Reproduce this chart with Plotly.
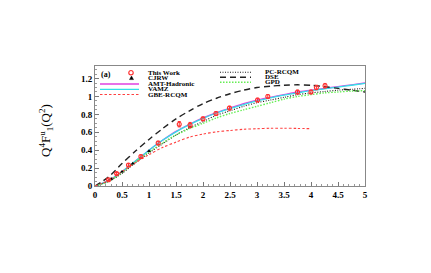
import plotly.graph_objects as go

# ---------------- data ----------------
q2_grid = [0, 0.25, 0.5, 0.75, 1, 1.25, 1.5, 1.75, 2, 2.25, 2.5, 2.75, 3,
           3.25, 3.5, 3.75, 4, 4.25, 4.5, 4.75, 5]
amt_hadronic = [0, 0.06, 0.16, 0.28, 0.40, 0.51, 0.61, 0.69, 0.76, 0.82, 0.87,
                0.92, 0.96, 0.99, 1.02, 1.05, 1.07, 1.09, 1.11, 1.13, 1.15]
vamz = [0, 0.06, 0.16, 0.28, 0.40, 0.51, 0.605, 0.685, 0.755, 0.815, 0.865,
        0.91, 0.95, 0.985, 1.015, 1.04, 1.065, 1.085, 1.105, 1.125, 1.145]
pc_rcqm = [0, 0.05, 0.14, 0.26, 0.37, 0.47, 0.57, 0.65, 0.72, 0.79, 0.84,
           0.89, 0.93, 0.96, 0.99, 1.02, 1.04, 1.055, 1.07, 1.08, 1.09]
dse = [0, 0.10, 0.25, 0.39, 0.52, 0.64, 0.75, 0.84, 0.92, 0.98, 1.03, 1.07,
       1.10, 1.115, 1.125, 1.13, 1.125, 1.11, 1.09, 1.07, 1.05]
gpd = [0, 0.05, 0.15, 0.27, 0.38, 0.48, 0.57, 0.64, 0.70, 0.76, 0.81, 0.85,
       0.89, 0.93, 0.97, 1.0, 1.02, 1.04, 1.05, 1.06, 1.065]
gbe_q2 = [0, 0.25, 0.5, 0.75, 1, 1.25, 1.5, 1.75, 2, 2.25, 2.5, 2.75, 3,
          3.25, 3.5, 3.75, 4]
gbe_rcqm = [0, 0.06, 0.16, 0.26, 0.35, 0.43, 0.49, 0.545, 0.58, 0.605, 0.62,
            0.633, 0.64, 0.645, 0.645, 0.643, 0.64]

this_work_q2 = [0.25, 0.4, 0.62, 0.85, 1.17, 1.56, 1.76, 2.0, 2.24, 2.49,
                3.01, 3.2, 3.75, 4.0, 4.1, 4.26]
this_work = [0.07, 0.14, 0.235, 0.33, 0.48, 0.69, 0.68, 0.75, 0.81, 0.87,
             0.96, 1.0, 1.05, 1.05, 1.10, 1.12]
this_work_err = [0.01, 0.01, 0.015, 0.015, 0.02, 0.03, 0.03, 0.02, 0.02, 0.02,
                 0.02, 0.02, 0.02, 0.02, 0.025, 0.025]

cjrw_q2 = [0.3, 0.5, 0.7, 1.0, 1.76]
cjrw = [0.08, 0.16, 0.25, 0.39, 0.66]

x_ticks = [0, 0.5, 1, 1.5, 2, 2.5, 3, 3.5, 4, 4.5, 5]
x_tick_labels = ["0", "0.5", "1", "1.5", "2", "2.5", "3", "3.5", "4", "4.5", "5"]
y_ticks = [0, 0.2, 0.4, 0.6, 0.8, 1.0, 1.2]
y_tick_labels = ["0", "0.2", "0.4", "0.6", "0.8", "1", "1.2"]

names_left = ["This Work", "CJRW", "AMT-Hadronic", "VAMZ", "GBE-RCQM"]
names_right = ["PC-RCQM", "DSE", "GPD"]

# ---------------- figure geometry ----------------
OFF = 8                      # default page body margin
WIN_W, WIN_H = 431, 273
PLOT_L, PLOT_R, PLOT_T, PLOT_B = 95, 365, 66, 186   # target plot box on screen
W, H = WIN_W - OFF, WIN_H - OFF
L, T = PLOT_L - OFF, PLOT_T - OFF
PW, PH = PLOT_R - PLOT_L, PLOT_B - PLOT_T
R, B = W - L - PW, H - T - PH
SERIF = "Liberation Serif"

def px(x):
    return (x - PLOT_L) / PW

def py(y):
    return (PLOT_B - y) / PH

style = {
    "AMT-Hadronic": dict(color="#e040e0", width=1.3, dash="solid"),
    "VAMZ": dict(color="#33e0e8", width=1.3, dash="solid"),
    "PC-RCQM": dict(color="#222222", width=1.1, dash="1px,1.5px"),
    "DSE": dict(color="#222222", width=1.4, dash="6px,4px"),
    "GPD": dict(color="#66ee55", width=1.4, dash="1.5px,1.5px"),
    "GBE-RCQM": dict(color="#ff4040", width=1.1, dash="2.5px,2px"),
}

fig = go.Figure()
curves = [("AMT-Hadronic", q2_grid, amt_hadronic), ("VAMZ", q2_grid, vamz),
          ("PC-RCQM", q2_grid, pc_rcqm), ("DSE", q2_grid, dse),
          ("GPD", q2_grid, gpd), ("GBE-RCQM", gbe_q2, gbe_rcqm)]
for nm, xs, ys in curves:
    fig.add_trace(go.Scatter(x=xs, y=ys, mode="lines", name=nm,
                             line=dict(shape="spline", smoothing=0.8, **style[nm]),
                             showlegend=False))

fig.add_trace(go.Scatter(x=cjrw_q2, y=cjrw, mode="markers", name="CJRW",
                         marker=dict(symbol="triangle-up", size=3.5, color="black"),
                         showlegend=False))
fig.add_trace(go.Scatter(x=this_work_q2, y=this_work, mode="markers", name="This Work",
                         marker=dict(symbol="circle-open", size=4, color="#ff3030",
                                     line=dict(width=1.1)),
                         error_y=dict(type="data", array=this_work_err, color="#ff3030",
                                      thickness=1, width=1.5),
                         showlegend=False))

# ---------------- manual legend ----------------
shapes = []
annotations = []
leg_font = dict(family=SERIF, size=7, color="black", weight="bold")

left_rows = [72.7, 78.0, 84.0, 89.3, 94.5]
right_rows = [72.3, 77.3, 82.3]

for nm, yy in zip(names_left, left_rows):
    annotations.append(dict(x=px(146), y=py(yy), xref="paper", yref="paper",
                            text=nm, showarrow=False, xanchor="left", yanchor="middle",
                            font=leg_font))
    if nm in style:
        s = style[nm]
        shapes.append(dict(type="line", xref="paper", yref="paper",
                           x0=px(100), x1=px(139), y0=py(yy), y1=py(yy),
                           line=dict(color=s["color"], width=s["width"], dash=s["dash"])))
# circle key
shapes.append(dict(type="circle", xref="paper", yref="paper", xsizemode="pixel",
                   ysizemode="pixel", xanchor=px(131), yanchor=py(left_rows[0]),
                   x0=-2.2, x1=2.2, y0=-2.2, y1=2.2,
                   line=dict(color="#ff3030", width=1.2)))
# triangle key
shapes.append(dict(type="path", xref="paper", yref="paper", xsizemode="pixel",
                   ysizemode="pixel", xanchor=px(131.5), yanchor=py(left_rows[1]),
                   path="M -2,-1.6 L 2,-1.6 L 0,2 Z", fillcolor="black",
                   line=dict(color="black", width=0.5)))

for nm, yy in zip(names_right, right_rows):
    annotations.append(dict(x=px(263), y=py(yy), xref="paper", yref="paper",
                            text=nm, showarrow=False, xanchor="left", yanchor="middle",
                            font=leg_font))
    s = style[nm]
    shapes.append(dict(type="line", xref="paper", yref="paper",
                       x0=px(220), x1=px(251), y0=py(yy), y1=py(yy),
                       line=dict(color=s["color"], width=s["width"], dash=s["dash"])))

annotations.append(dict(x=px(106), y=py(74), xref="paper", yref="paper", text="(a)",
                        showarrow=False, xanchor="center", yanchor="middle",
                        font=dict(family=SERIF, size=8, color="black", weight="bold")))

# y-axis title
annotations.append(dict(x=px(46), y=py(131), xref="paper", yref="paper",
                        text="Q<sup>4</sup>F<sup>u</sup><sub>1</sub>(Q<sup>2</sup>)",
                        textangle=-90, showarrow=False, xanchor="center", yanchor="middle",
                        font=dict(family=SERIF, size=13, color="black")))

tick_font = dict(family=SERIF, size=9, color="black", weight="bold")
fig.update_layout(
    width=W, height=H,
    margin=dict(l=L, r=R, t=T, b=B),
    paper_bgcolor="white", plot_bgcolor="white",
    shapes=shapes, annotations=annotations,
    xaxis=dict(range=[0, 5], tickvals=x_ticks, ticktext=x_tick_labels,
               ticks="inside", ticklen=4, tickcolor="#777",
               minor=dict(ticks="inside", ticklen=2, dtick=0.1, tickcolor="#999"),
               showline=True, linecolor="#888", linewidth=1, mirror=True,
               showgrid=False, zeroline=False, tickfont=tick_font),
    yaxis=dict(range=[0, 1.34], tickvals=y_ticks, ticktext=y_tick_labels,
               ticks="inside", ticklen=4, tickcolor="#777",
               minor=dict(ticks="inside", ticklen=2, dtick=0.05, tickcolor="#999"),
               showline=True, linecolor="#888", linewidth=1, mirror=True,
               showgrid=False, zeroline=False, tickfont=tick_font),
)

fig.write_html("out.html")
